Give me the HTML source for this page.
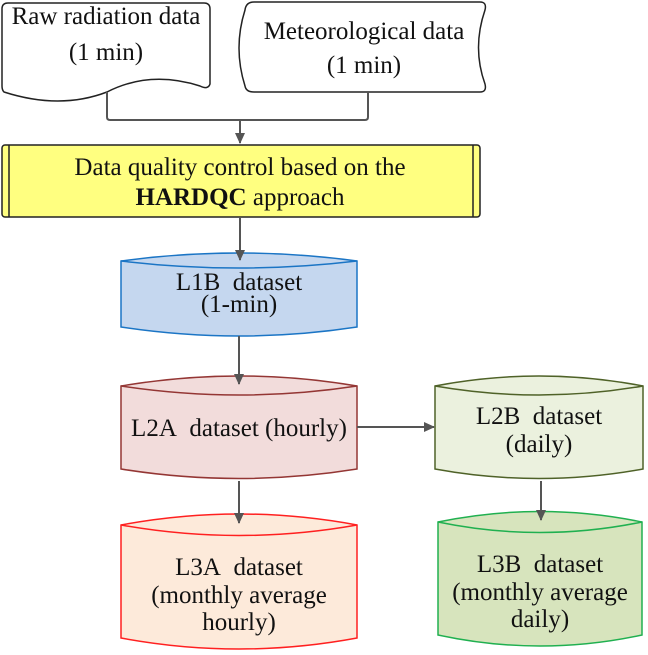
<!DOCTYPE html>
<html><head><style>body{margin:0;background:#fff}svg{display:block}text{font-family:"Liberation Serif","Times New Roman",serif;font-size:25px;fill:#111;text-anchor:middle}</style></head><body>
<svg width="648" height="655" viewBox="0 0 648 655" xmlns="http://www.w3.org/2000/svg">
<defs><marker id="a" markerWidth="12" markerHeight="12" refX="10" refY="5" orient="auto" markerUnits="userSpaceOnUse"><path d="M0,0 L11,5 L0,10 Z" fill="#555"/></marker></defs>
<!-- Raw doc -->
<path d="M8,3 H204 Q210,3 210,9 V84 Q208,90 200,86 Q150,70 107,92 Q60,110 4,92 Q2,90 2,86 V9 Q2,3 8,3 Z" fill="#fff" stroke="#222" stroke-width="1.5"/>
<text x="106" y="24">Raw radiation data</text><text x="106" y="60">(1 min)</text>
<!-- Meteo -->
<path d="M254,2 H480 Q487,2 485,10 Q472,48 485,84 Q487,92 480,92 H254 Q246,92 245,86 Q233,48 245,10 Q246,2 254,2 Z" fill="#fff" stroke="#222" stroke-width="1.5"/>
<text x="364" y="39">Meteorological data</text><text x="364" y="73">(1 min)</text>
<!-- yellow -->
<rect x="2" y="145" width="478" height="72" rx="3" fill="#ffff80" stroke="#222" stroke-width="1.5"/>
<line x1="9" y1="145" x2="9" y2="217" stroke="#222" stroke-width="1.5"/><line x1="473" y1="145" x2="473" y2="217" stroke="#222" stroke-width="1.5"/>
<text x="240" y="175">Data quality control based on the</text>
<text x="240" y="205"><tspan font-weight="bold">HARDQC</tspan> approach</text>
<!-- L1B -->
<path d="M121,261 Q239,245 357,261 V327 Q239,345 121,327 Z" fill="#c5d7ef" stroke="#1b75c5" stroke-width="1.5"/>
<path d="M121,261 Q239,275 357,261" fill="none" stroke="#1b75c5" stroke-width="1.5"/>
<text x="239" y="290">L1B&#160;&#160;dataset</text><text x="239" y="312">(1-min)</text>
<!-- L2A -->
<path d="M121,386 Q239,366 357,386 V469 Q239,488 121,469 Z" fill="#f2dcdb" stroke="#943634" stroke-width="1.5"/>
<path d="M121,386 Q239,404 357,386" fill="none" stroke="#943634" stroke-width="1.5"/>
<text x="239" y="436">L2A&#160;&#160;dataset (hourly)</text>
<!-- L2B -->
<path d="M435,386 Q539,366 643,386 V469 Q539,488 435,469 Z" fill="#ebf1de" stroke="#4f6228" stroke-width="1.5"/>
<path d="M435,386 Q539,404 643,386" fill="none" stroke="#4f6228" stroke-width="1.5"/>
<text x="539" y="424">L2B&#160;&#160;dataset</text><text x="539" y="452">(daily)</text>
<!-- L3A -->
<path d="M121,525 Q239,503 357,525 V638 Q239,660 121,638 Z" fill="#fdeada" stroke="#ff2020" stroke-width="1.5"/>
<path d="M121,525 Q239,546 357,525" fill="none" stroke="#ff2020" stroke-width="1.5"/>
<text x="239" y="575">L3A&#160;&#160;dataset</text><text x="239" y="603">(monthly average</text><text x="239" y="630">hourly)</text>
<!-- L3B -->
<path d="M438,522 Q540,501 642,522 V635 Q540,657 438,635 Z" fill="#d7e4bd" stroke="#20b050" stroke-width="1.5"/>
<path d="M438,522 Q540,543 642,522" fill="none" stroke="#20b050" stroke-width="1.5"/>
<text x="540" y="572">L3B&#160;&#160;dataset</text><text x="540" y="600">(monthly average</text><text x="540" y="627">daily)</text>
<!-- connectors -->
<g stroke="#555" stroke-width="2" fill="none">
<path d="M107,92 V117 Q107,120 110,120 H365 Q368,120 368,117 V92"/>
<line x1="240" y1="120" x2="240" y2="143" marker-end="url(#a)"/>
<line x1="240" y1="217" x2="240" y2="260" marker-end="url(#a)"/>
<line x1="239" y1="336" x2="239" y2="384" marker-end="url(#a)"/>
<line x1="357" y1="427" x2="434" y2="427" marker-end="url(#a)"/>
<line x1="239" y1="481" x2="239" y2="523" marker-end="url(#a)"/>
<line x1="541" y1="481" x2="541" y2="520" marker-end="url(#a)"/>
</g>
</svg>
</body></html>
